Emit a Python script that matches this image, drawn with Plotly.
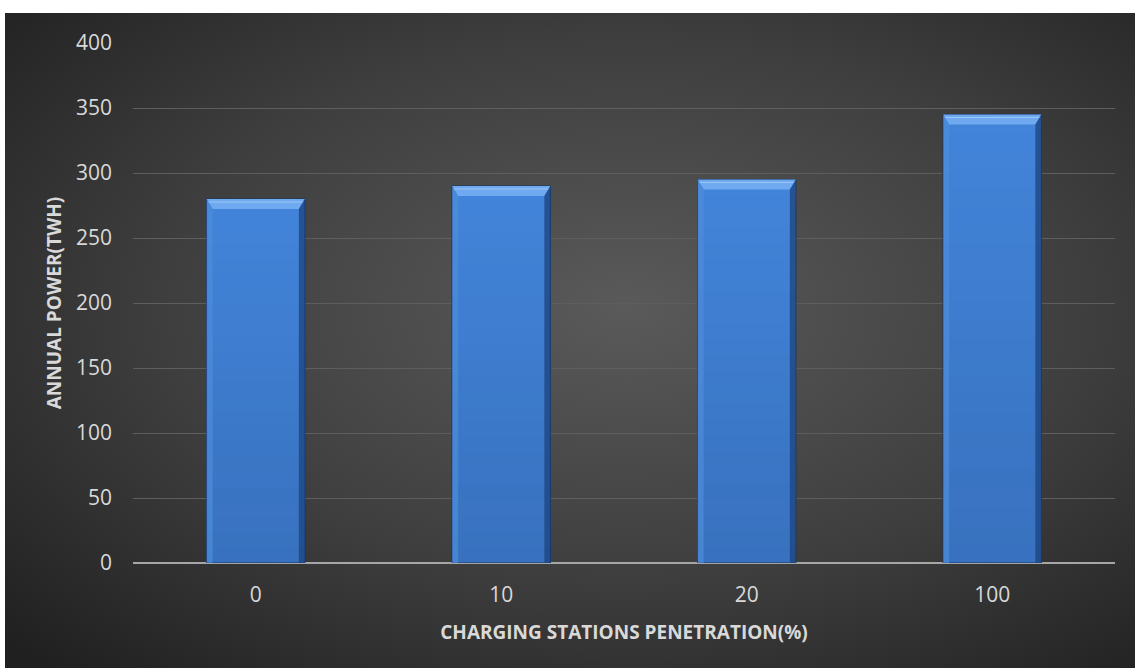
import base64
import plotly.graph_objects as go

categories = ["0", "10", "20", "100"]
annual_power = [280, 290, 295, 345]
y_ticks = [0, 50, 100, 150, 200, 250, 300, 350, 400]

W, H = 1135, 668
L, R, T, B = 133, 20, 43, 105
pw, ph = W - L - R, H - T - B

svg = f'''<svg xmlns="http://www.w3.org/2000/svg" width="{W}" height="{H}" viewBox="0 0 {W} {H}" preserveAspectRatio="none">
<defs><radialGradient id="g" cx="55%" cy="45%" r="75%">
<stop offset="0%" stop-color="#5a5a5a"/><stop offset="55%" stop-color="#3e3e3e"/><stop offset="100%" stop-color="#202020"/>
</radialGradient></defs><rect width="{W}" height="{H}" fill="url(#g)"/></svg>'''
bg_uri = "data:image/svg+xml;base64," + base64.b64encode(svg.encode()).decode()

bw = 0.4
fig = go.Figure()
fig.add_trace(go.Bar(
    x=categories, y=annual_power, width=bw,
    marker=dict(color="#4385da", line=dict(color="#16325e", width=1)),
    hoverinfo="x+y",
))

shapes = []
px_per_unit = ph / 400.0
bev = 10 / px_per_unit
side = 6 / pw * len(categories)
n_bands = 24
for i, v in enumerate(annual_power):
    x0, x1 = i - bw / 2, i + bw / 2
    # vertical shading: darker towards the bottom
    for k in range(n_bands):
        ya = v * k / n_bands
        yb = v * (k + 1) / n_bands
        op = 0.28 * (1 - (k + 0.5) / n_bands)
        shapes.append(dict(type="rect", xref="x", yref="y", layer="above",
                           x0=x0, x1=x1, y0=ya, y1=yb,
                           fillcolor="#1c3f78", line=dict(width=0), opacity=op))
    # top bevel (lighter)
    shapes.append(dict(type="path", xref="x", yref="y", layer="above",
                       path=f"M {x0},{v} L {x1},{v} L {x1-side},{v-bev} L {x0+side},{v-bev} Z",
                       fillcolor="#6fa9ef", line=dict(width=0)))
    shapes.append(dict(type="line", xref="x", yref="y", layer="above",
                       x0=x0 + side * 0.3, x1=x1 - side * 0.3, y0=v - bev * 0.3, y1=v - bev * 0.3,
                       line=dict(color="#9cc6f7", width=1)))
    # left bevel
    shapes.append(dict(type="path", xref="x", yref="y", layer="above",
                       path=f"M {x0},{v} L {x0+side},{v-bev} L {x0+side},0 L {x0},0 Z",
                       fillcolor="#4f8ddb", line=dict(width=0), opacity=0.7))
    # right bevel (darker)
    shapes.append(dict(type="path", xref="x", yref="y", layer="above",
                       path=f"M {x1},{v} L {x1-side},{v-bev} L {x1-side},0 L {x1},0 Z",
                       fillcolor="#1d4682", line=dict(width=0), opacity=0.8))

fig.update_layout(
    width=W, height=H,
    margin=dict(l=L, r=R, t=T, b=B),
    paper_bgcolor="white",
    plot_bgcolor="rgba(0,0,0,0)",
    font=dict(family="Open Sans, sans-serif", color="#d9d9d9", size=20),
    showlegend=False,
    bargap=0.6,
    shapes=shapes,
    images=[dict(source=bg_uri, xref="paper", yref="paper",
                 x=(5 - L) / pw, y=(H - B - 13) / ph,
                 sizex=(W - 5) / pw, sizey=(H - 13) / ph,
                 sizing="stretch", xanchor="left", yanchor="top", layer="below")],
    xaxis=dict(
        type="category", showgrid=False, showline=False, zeroline=False,
        ticks="", ticklabelstandoff=17,
        tickfont=dict(size=21, color="#d9d9d9"),
        title=dict(text="<b>CHARGING STATIONS PENETRATION(%)</b>",
                   font=dict(size=19, color="#d9d9d9"), standoff=18),
    ),
    yaxis=dict(
        range=[0, 400], tickvals=y_ticks, showgrid=True,
        gridcolor="#5e5e5e", gridwidth=1,
        zeroline=True, zerolinecolor="#a6a6a6", zerolinewidth=2,
        showline=False, ticks="", ticklabelstandoff=20,
        tickfont=dict(size=21, color="#d9d9d9"),
        title=dict(text="<b>ANNUAL POWER(TWH)</b>",
                   font=dict(size=19, color="#d9d9d9"), standoff=9),
    ),
)

fig.write_html("out.html")
